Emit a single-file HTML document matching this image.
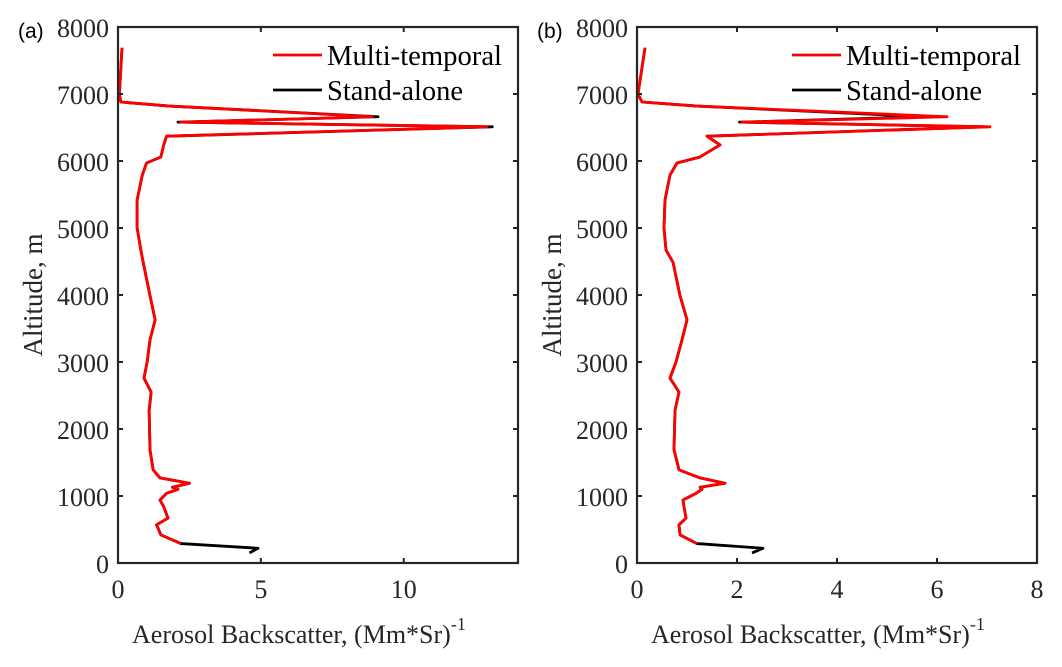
<!DOCTYPE html>
<html><head><meta charset="utf-8"><style>
html,body{margin:0;padding:0;background:#fff;}
svg{display:block;font-family:"Liberation Serif",serif;}
</style></head><body>
<svg id="chart" width="1062" height="667" viewBox="0 0 1062 667" xmlns="http://www.w3.org/2000/svg"></svg>
<script>
const altitudes=[7690,7000,6880,6820,6660,6580,6510,6370,6240,6060,5970,5790,5420,5000,4670,4490,3990,3630,3330,3000,2760,2550,2280,1690,1390,1270,1190,1130,1100,1040,940,840,670,570,420,290];
const redA=[0.14,0.05,0.1,1.8,8.9,2.2,12.9,1.7,1.6,1.5,1.0,0.85,0.67,0.67,0.8,0.88,1.12,1.3,1.12,1.02,0.91,1.16,1.09,1.12,1.23,1.47,2.5,1.9,2.1,1.7,1.47,1.6,1.75,1.35,1.5,2.2];
const blackA=[0.14,0.05,0.1,1.8,9.1,2.1,13.1,1.7,1.6,1.5,1.0,0.85,0.67,0.67,0.8,0.88,1.12,1.3,1.12,1.02,0.91,1.16,1.09,1.12,1.23,1.47,2.5,1.9,2.1,1.7,1.47,1.6,1.75,1.35,1.5,2.2];
const redB=[0.16,0.02,0.1,1.2,6.2,2.1,7.06,1.4,1.66,1.26,0.8,0.66,0.56,0.54,0.58,0.72,0.86,1.0,0.9,0.78,0.66,0.84,0.76,0.74,0.84,1.26,1.76,1.26,1.3,1.18,0.92,0.94,0.98,0.84,0.86,1.2];
const blackB=[0.16,0.02,0.1,1.2,5.8,2.05,6.95,1.4,1.66,1.26,0.8,0.66,0.56,0.54,0.58,0.72,0.86,1.0,0.9,0.78,0.66,0.84,0.76,0.74,0.84,1.26,1.76,1.26,1.3,1.18,0.92,0.94,0.98,0.84,0.86,1.2];
const tailAlt=[220,150];
const tailA=[4.9,4.6];
const tailB=[2.52,2.3];
const yTicks=[0,1000,2000,3000,4000,5000,6000,7000,8000];
const xTicksA=[0,5,10];
const xTicksB=[0,2,4,6,8];

const NS="http://www.w3.org/2000/svg";
const svg=document.getElementById('chart');
function mk(tag,attrs,parent){const e=document.createElementNS(NS,tag);for(const k in attrs)e.setAttribute(k,attrs[k]);(parent||svg).appendChild(e);return e;}

function panel(id,L,R,xmax,xTicks,red,black,tail,label){
  const T=27,B=563;
  const g=mk('g',{});
  
  
  const xs=v=>L+(R-L)*v/xmax;
  const ys=v=>B-(B-T)*v/8000;
  const bp=altitudes.map((a,i)=>xs(black[i])+','+ys(a)).concat(tailAlt.map((a,i)=>xs(tail[i])+','+ys(a)));
  const bl=mk('polyline',{points:bp.join(' '),fill:'none',stroke:'#000','stroke-width':2.8,'stroke-linejoin':'round'},g);
  
  
  const rp=altitudes.map((a,i)=>xs(red[i])+','+ys(a));
  const rl=mk('polyline',{points:rp.join(' '),fill:'none',stroke:'#ff0000','stroke-width':2.8,'stroke-linejoin':'round'},g);
  
  
  const box=mk('rect',{x:L,y:T,width:R-L,height:B-T,fill:'none',stroke:'#262626','stroke-width':2.2},g);
  
  
  yTicks.forEach(v=>{
    const y=ys(v);
    mk('line',{x1:L,x2:L+5,y1:y,y2:y,stroke:'#262626','stroke-width':2},g);
    mk('line',{x1:R,x2:R-5,y1:y,y2:y,stroke:'#262626','stroke-width':2},g);
    const t=mk('text',{x:L-9,y:y+10,'text-anchor':'end','font-size':26,fill:'#262626'},g);
    t.textContent=v;
    
    
  });
  xTicks.forEach(v=>{
    const x=xs(v);
    mk('line',{x1:x,x2:x,y1:B,y2:B-5,stroke:'#262626','stroke-width':2},g);
    mk('line',{x1:x,x2:x,y1:T,y2:T+5,stroke:'#262626','stroke-width':2},g);
    const t=mk('text',{x:x,y:598,'text-anchor':'middle','font-size':26,fill:'#262626'},g);
    t.textContent=v;
    
    
  });
  const xt=mk('text',{x:L+14,y:643,'font-size':26,fill:'#262626'},g);
  xt.innerHTML='Aerosol Backscatter, (Mm*Sr)<tspan dy="-13" font-size="18">-1</tspan>';
  
  
  const yt=mk('text',{x:0,y:0,'text-anchor':'middle','font-size':27,fill:'#262626',transform:`translate(${L-76},${(T+B)/2}) rotate(-90)`},g);
  yt.textContent='Altitude, m';
  
  
  const pl=mk('text',{x:L-100,y:38,'font-size':21,fill:'#000','font-family':'Liberation Sans, sans-serif'},g);
  pl.textContent=label;
  
  
  const lg=mk('g',{},g);
  
  
  const lx=L+155;
  mk('line',{x1:lx,x2:lx+49,y1:55,y2:55,stroke:'#ff0000','stroke-width':2.8},lg);
  const t1=mk('text',{x:lx+54,y:65,'font-size':28,fill:'#000',textLength:175,lengthAdjust:'spacingAndGlyphs'},lg);
  t1.textContent='Multi-temporal';
  
  
  mk('line',{x1:lx,x2:lx+49,y1:90,y2:90,stroke:'#000','stroke-width':2.8},lg);
  const t2=mk('text',{x:lx+54,y:100,'font-size':28,fill:'#000',textLength:136,lengthAdjust:'spacingAndGlyphs'},lg);
  t2.textContent='Stand-alone';
  
  
}
panel('a',118,518,14,xTicksA,redA,blackA,tailA,'(a)');
panel('b',637,1037,8,xTicksB,redB,blackB,tailB,'(b)');
</script>
</body></html>
